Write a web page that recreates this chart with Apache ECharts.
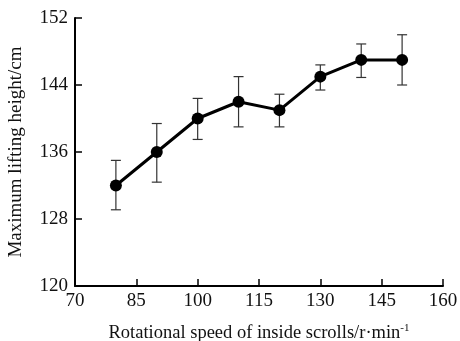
<!DOCTYPE html>
<html>
<head>
<meta charset="utf-8">
<script src="https://cdn.jsdelivr.net/npm/echarts@6/dist/echarts.min.js"></script>
<style>
  html, body { margin: 0; padding: 0; background: #fff; }
  #chart { width: 460px; height: 341px; }
</style>
</head>
<body>
<div id="chart"></div>
<script>
// rotational speed (r/min)
var speeds = [80, 90, 100, 110, 120, 130, 140, 150]
// mean lifting height (cm)
var heights = [132, 136, 140, 142, 141, 145, 147, 147]
// error bar ends
var errLow = [129.1, 132.4, 137.5, 139.0, 139.0, 143.4, 144.9, 144.0]
var errHigh = [135.0, 139.4, 142.4, 145.0, 142.9, 146.4, 148.9, 150.0]

var font = 'Liberation Serif'

var chart = echarts.init(document.getElementById('chart'))

var lineData = speeds.map(function (s, i) { return [s, heights[i]] })
var errData = speeds.map(function (s, i) { return [s, errLow[i], errHigh[i]] })

chart.setOption({
  animation: false,
  grid: { left: 75, right: 17, top: 18, bottom: 55, containLabel: false, outerBoundsMode: 'none' },
  xAxis: {
    type: 'value',
    min: 70,
    max: 160,
    interval: 15,
    name: 'Rotational speed of inside scrolls/r·min{sup|-1}',
    nameLocation: 'middle',
    nameGap: 37,
    nameTextStyle: {
      color: '#111',
      fontFamily: font,
      fontSize: 18.5,
      rich: {
        sup: { fontFamily: font, fontSize: 11, color: '#111', padding: [0, 0, 9, 0] }
      }
    },
    axisLine: { lineStyle: { color: '#000', width: 2 } },
    axisTick: { inside: true, length: 7, lineStyle: { color: '#000', width: 1.5 } },
    axisLabel: { color: '#111', fontFamily: font, fontSize: 19, margin: 6 },
    splitLine: { show: false }
  },
  yAxis: {
    type: 'value',
    min: 120,
    max: 152,
    interval: 8,
    name: 'Maximum lifting height/cm',
    nameLocation: 'middle',
    nameGap: 49,
    nameTextStyle: { color: '#111', fontFamily: font, fontSize: 19 },
    axisLine: { show: true, lineStyle: { color: '#000', width: 2 } },
    axisTick: { show: true, inside: true, length: 7, lineStyle: { color: '#000', width: 1.5 } },
    axisLabel: { color: '#111', fontFamily: font, fontSize: 19, margin: 7 },
    splitLine: { show: false }
  },
  series: [
    {
      type: 'custom',
      data: errData,
      encode: { x: 0, y: [1, 2] },
      z: 1,
      renderItem: function (params, api) {
        var x = api.value(0)
        var lo = api.coord([x, api.value(1)])
        var hi = api.coord([x, api.value(2)])
        var w = 5
        var style = { stroke: '#333', lineWidth: 1.2 }
        return {
          type: 'group',
          children: [
            { type: 'line', shape: { x1: lo[0], y1: lo[1], x2: hi[0], y2: hi[1] }, style: style },
            { type: 'line', shape: { x1: lo[0] - w, y1: lo[1], x2: lo[0] + w, y2: lo[1] }, style: style },
            { type: 'line', shape: { x1: hi[0] - w, y1: hi[1], x2: hi[0] + w, y2: hi[1] }, style: style }
          ]
        }
      }
    },
    {
      type: 'line',
      data: lineData,
      z: 2,
      symbol: 'circle',
      symbolSize: 12,
      lineStyle: { color: '#000', width: 3 },
      itemStyle: { color: '#000' }
    }
  ]
})
</script>
</body>
</html>
